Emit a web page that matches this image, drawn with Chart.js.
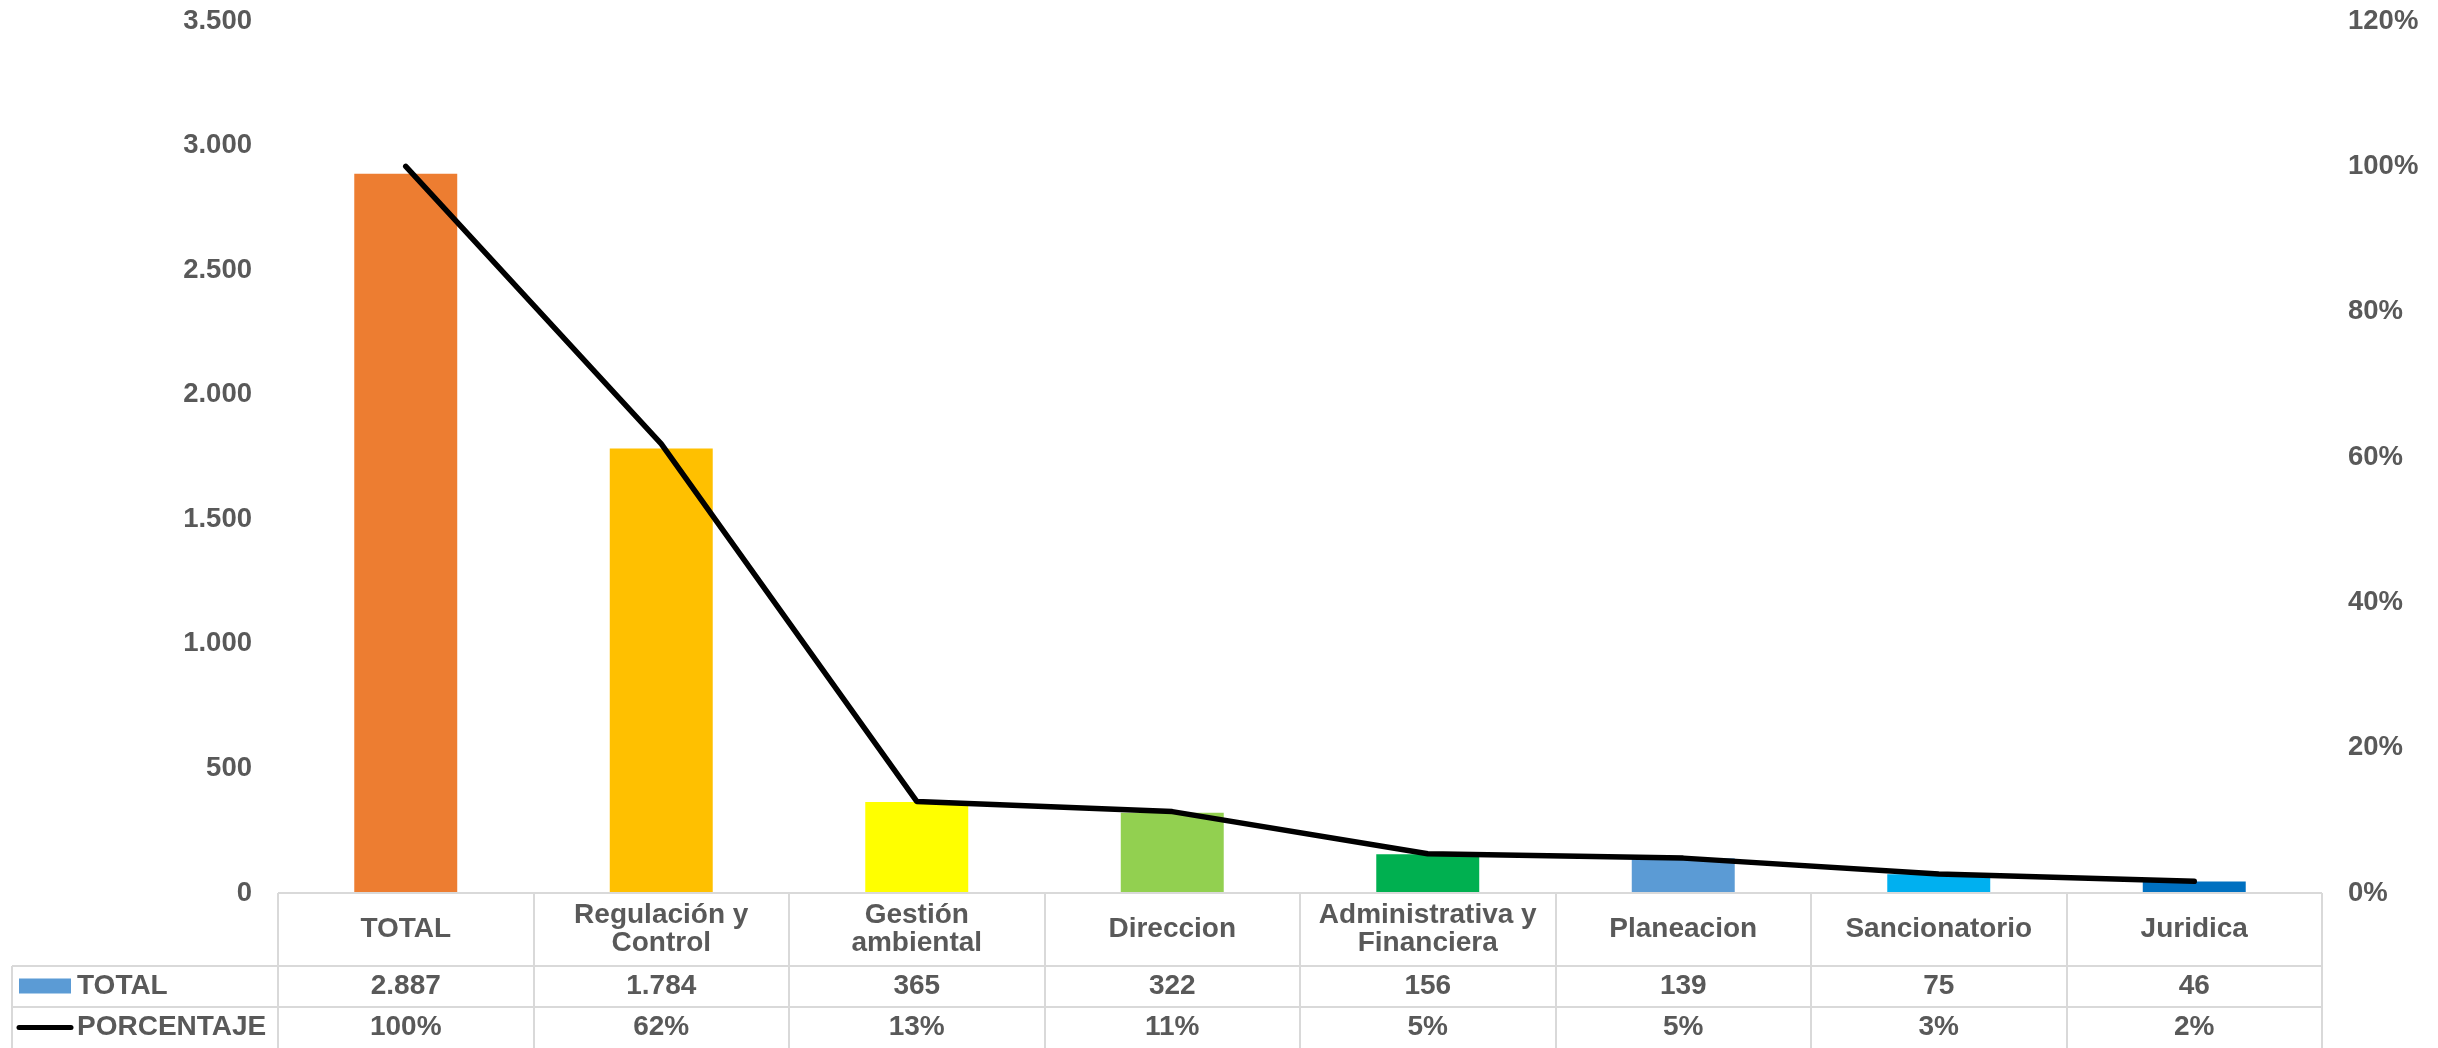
<!DOCTYPE html>
<html>
<head>
<meta charset="utf-8">
<script src="https://cdn.jsdelivr.net/npm/chart.js@4.4.1/dist/chart.umd.min.js"></script>
<style>
  html, body { margin: 0; padding: 0; background: #ffffff; }
  canvas { display: block; }
</style>
</head>
<body>
<canvas id="chart" width="2438" height="1048"></canvas>
<script>
// Dependencias: categorías, totales y porcentajes
const categories = [
  ['TOTAL'],
  ['Regulación y', 'Control'],
  ['Gestión', 'ambiental'],
  ['Direccion'],
  ['Administrativa y', 'Financiera'],
  ['Planeacion'],
  ['Sancionatorio'],
  ['Juridica']
];
const totals = [2887, 1784, 365, 322, 156, 139, 75, 46];
const shares = [1.00, 0.618, 0.126, 0.112, 0.054, 0.048, 0.026, 0.016];
const barColors = ['#ED7D31', '#FFC000', '#FFFF00', '#92D050', '#00B050', '#5B9BD5', '#00B0F0', '#0070C0'];
const seriesNames = ['TOTAL', 'PORCENTAJE'];

const TEXT = '#595959';
const GRID = '#d9d9d9';
const FONT = '"Liberation Sans", Arial, sans-serif';

function thousands(v) {
  return String(Math.round(v)).replace(/\B(?=(\d{3})+(?!\d))/g, '.');
}
function percent(v) {
  return Math.round(v * 100) + '%';
}

// Tabla de datos bajo el gráfico (categorías, leyenda y valores)
const dataTable = {
  id: 'dataTable',
  afterDraw(chart) {
    const ctx = chart.ctx;
    const x = chart.scales.x;
    const n = categories.length;
    const colW = (x.right - x.left) / n;
    const top = chart.chartArea.bottom;
    const r1 = top + 73, r2 = r1 + 41, r3 = r2 + 41;
    const legendLeft = 12;

    ctx.save();
    ctx.strokeStyle = GRID;
    ctx.lineWidth = 2;
    ctx.beginPath();
    ctx.moveTo(x.left, top); ctx.lineTo(x.right, top);
    ctx.moveTo(legendLeft, r1); ctx.lineTo(x.right, r1);
    ctx.moveTo(legendLeft, r2); ctx.lineTo(x.right, r2);
    ctx.moveTo(legendLeft, r1); ctx.lineTo(legendLeft, r3);
    for (let i = 0; i <= n; i++) {
      const cx = Math.round(x.left + i * colW);
      ctx.moveTo(cx, top); ctx.lineTo(cx, r3);
    }
    ctx.stroke();

    ctx.fillStyle = TEXT;
    ctx.font = 'bold 28px ' + FONT;
    ctx.textAlign = 'center';
    ctx.textBaseline = 'middle';
    for (let i = 0; i < n; i++) {
      const cx = x.getPixelForValue(i);
      const lines = categories[i];
      const lh = 28;
      const y0 = (top + r1) / 2 - (lines.length - 1) * lh / 2;
      lines.forEach((t, k) => ctx.fillText(t, cx, y0 + k * lh));
      ctx.fillText(thousands(totals[i]), cx, (r1 + r2) / 2);
      ctx.fillText(percent(shares[i]), cx, (r2 + r3) / 2);
    }

    // Claves de la leyenda
    ctx.fillStyle = '#5B9BD5';
    ctx.fillRect(19, (r1 + r2) / 2 - 8, 52, 15);
    ctx.strokeStyle = '#000000';
    ctx.lineWidth = 5;
    ctx.lineCap = 'round';
    ctx.beginPath();
    ctx.moveTo(19, (r2 + r3) / 2);
    ctx.lineTo(71, (r2 + r3) / 2);
    ctx.stroke();

    ctx.fillStyle = TEXT;
    ctx.textAlign = 'left';
    ctx.fillText(seriesNames[0], 77, (r1 + r2) / 2);
    ctx.fillText(seriesNames[1], 77, (r2 + r3) / 2);
    ctx.restore();
  }
};

function fixAxis(width) {
  return s => {
    s.width = width;
    s.paddingTop = 0;
    s.paddingBottom = 0;
  };
}

new Chart(document.getElementById('chart'), {
  type: 'bar',
  data: {
    labels: categories.map(c => c.join(' ')),
    datasets: [
      {
        type: 'line',
        label: seriesNames[1],
        data: shares,
        yAxisID: 'y1',
        borderColor: '#000000',
        borderWidth: 5.5,
        borderCapStyle: 'round',
        borderJoinStyle: 'round',
        pointRadius: 0,
        fill: false,
        tension: 0,
        order: 0
      },
      {
        type: 'bar',
        label: seriesNames[0],
        data: totals,
        yAxisID: 'y',
        backgroundColor: barColors,
        borderWidth: 0,
        categoryPercentage: 1,
        barPercentage: 0.403,
        order: 1
      }
    ]
  },
  options: {
    responsive: false,
    animation: false,
    devicePixelRatio: 1,
    layout: { padding: { top: 21, bottom: 155, left: 0, right: 0 } },
    plugins: { legend: { display: false }, tooltip: { enabled: false } },
    scales: {
      x: { display: false },
      y: {
        position: 'left',
        min: 0, max: 3500,
        grid: { display: false, drawTicks: false },
        border: { display: false },
        ticks: {
          stepSize: 500,
          padding: 26,
          color: TEXT,
          font: { family: FONT, size: 27.5, weight: 'bold' },
          callback: v => thousands(v)
        },
        afterFit: fixAxis(278)
      },
      y1: {
        position: 'right',
        min: 0, max: 1.2,
        grid: { display: false, drawTicks: false },
        border: { display: false },
        ticks: {
          stepSize: 0.2,
          padding: 26,
          color: TEXT,
          font: { family: FONT, size: 27.5, weight: 'bold' },
          callback: v => percent(v)
        },
        afterFit: fixAxis(116)
      }
    }
  },
  plugins: [dataTable]
});
</script>
</body>
</html>
